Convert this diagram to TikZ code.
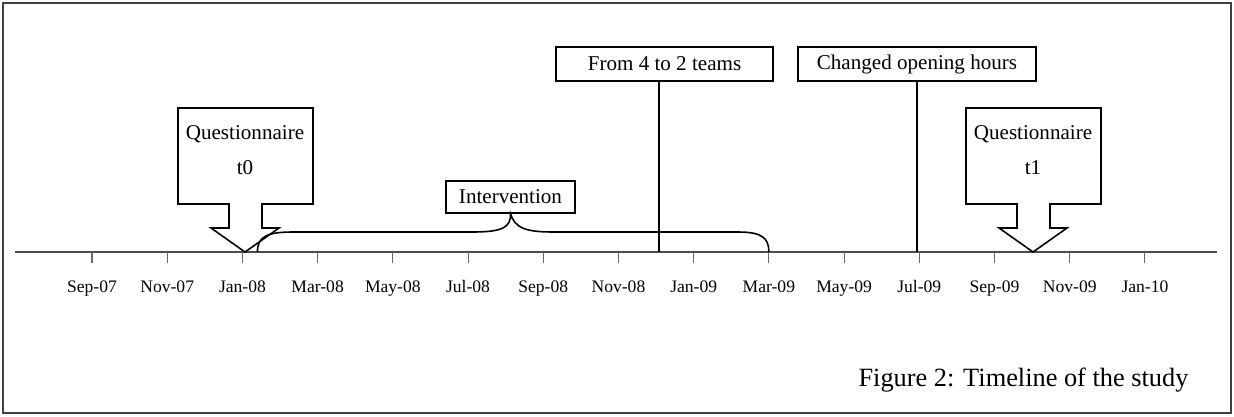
\documentclass[tikz,border=0pt]{standalone}
\usepackage{fontspec}
\setmainfont{Liberation Serif}
\usetikzlibrary{positioning, calc}

\begin{document}
\begin{tikzpicture}[x=0.02cm, y=-0.02cm,
            frame/.style={draw=black!75, line width=1.1pt},
            axis/.style={draw=black!70, line width=0.6pt},
            tick/.style={draw=black!60, line width=0.6pt},
            month/.style={font=\fontsize{10}{12}\selectfont, anchor=base, inner sep=0pt},
            event/.style={rectangle, draw, line width=0.9pt, fill=white, font=\fontsize{12}{14}\selectfont, minimum height=0.68cm, inner sep=0pt},
            callout/.style={draw, line width=0.9pt, fill=white},
            marker/.style={draw, line width=0.9pt},
            brace/.style={draw, line width=0.9pt}
        ]
            \useasboundingbox (0,0) rectangle (1234,416);
            \draw[frame] (3,3) rectangle (1231,413);

            % Time axis
            \coordinate (start) at (15,252);
            \coordinate (end) at (1217,252);
            \draw[axis] (start) -- (end);
            \foreach \lab [count=\k from 0] in {Sep-07,Nov-07,Jan-08,Mar-08,May-08,Jul-08,Sep-08,Nov-08,Jan-09,Mar-09,May-09,Jul-09,Sep-09,Nov-09,Jan-10}{
                \coordinate (m\k) at ({92+75.21*\k},252);
                \draw[tick] (m\k) -- ++(0,11);
                \node[month] (l\k) at ({92+75.21*\k},292) {\lab};
            }

            % Questionnaires
            \foreach \tx/\t in {245/0, 1033/1}{
                \coordinate (q\t tip) at (\tx,252);
                \draw[callout] (q\t tip) -- ++(-34,-24) -- ++(18,0) -- ++(0,-24) -- ++(-51,0) -- ++(0,-96) -- ++(135,0) -- ++(0,96) -- ++(-51,0) -- ++(0,24) -- ++(17,0) -- cycle;
                \node[font=\fontsize{12}{19.8}\selectfont, align=center] (q\t) at (\tx,150) {Questionnaire\\t\t};
            }

            % Intervention
            \node[event, minimum width=2.58cm, minimum height=0.64cm] (interv) at (510.5,197) {Intervention};
            \draw[brace] ($(m2)+(15,0)$) .. controls +(0,-16) and (268,232) .. (293,232) -- (473,232)
                .. controls (503,232) and (511,227) .. (interv.south)
                .. controls (515,227) and (523,232) .. (553,232) -- (738,232)
                .. controls (762,232) and +(0,-14) .. (m9);

            % Events
            \node[event, minimum width=4.34cm] (teams) at (664.5,64) {From 4 to 2 teams};
            \coordinate (dec08) at (659,252);
            \draw[marker] (dec08 |- teams.south) -- (dec08);
            \node[event, minimum width=4.76cm] (hours) at (917,64) {Changed opening hours};
            \draw[marker] (hours.south) -- (hours.south |- start);

            \node[font=\fontsize{15}{18}\selectfont] (caption) at (1023.5,380) {Figure 2: Timeline of the study};
        \end{tikzpicture}
\end{document}
